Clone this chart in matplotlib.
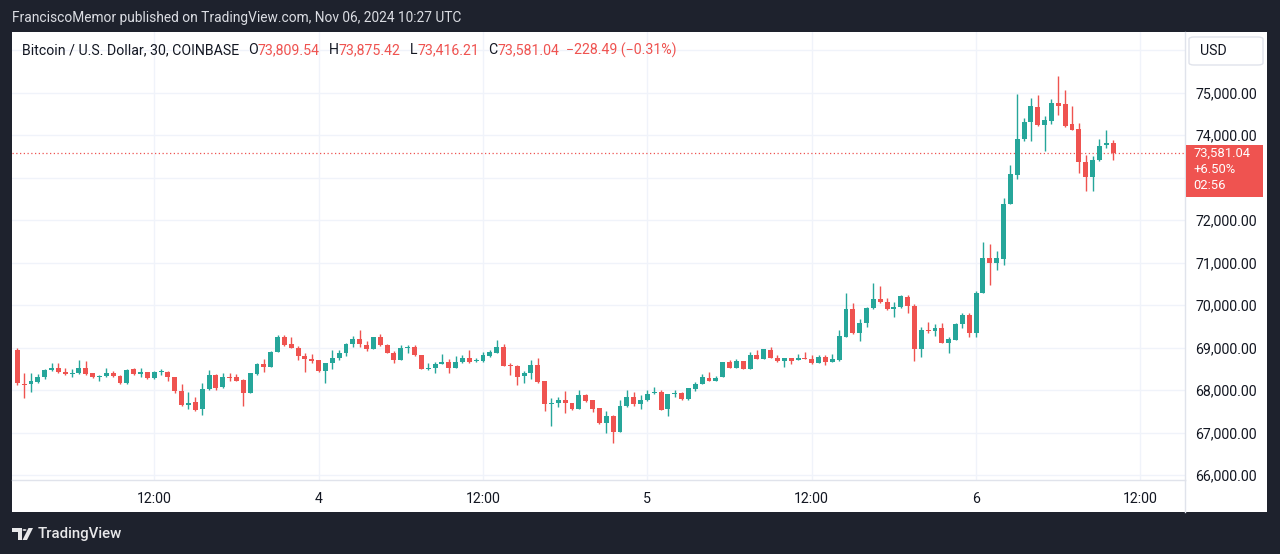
import matplotlib
matplotlib.use('Agg')
import matplotlib.pyplot as plt
import matplotlib.patches as mpatches
from matplotlib.lines import Line2D
import numpy as np
import pandas as pd

# ---------------- data (BTC/USD, 30-min candles, COINBASE) ----------------
start_time = '2024-11-03 02:00'
opens = [68945, 68145, 68138, 68185, 68317, 68475, 68515, 68428, 68374, 68397,
         68515, 68397, 68317, 68334, 68411, 68334, 68162, 68491, 68374, 68421,
         68280, 68421, 68435, 68303, 67988, 67651, 67715, 67550, 68021, 68357,
         68068, 68310, 68303, 68240, 67927, 68381, 68623, 68552, 68891, 69259,
         69080, 69000, 68812, 68727, 68710, 68451, 68633, 68750, 68882, 69080,
         69204, 69063, 68962, 69245, 69063, 68882, 68710, 69000, 69023, 68828,
         68499, 68529, 68609, 68656, 68529, 68670, 68750, 68687, 68694, 68812,
         68868, 69009, 68600, 68569, 68341, 68397, 68592, 68216, 67675, 67705,
         67762, 67691, 67557, 67887, 67769, 67588, 67221, 67393, 67009, 67628,
         67833, 67668, 67769, 67927, 67950, 67550, 67917, 67927, 67786, 68028,
         68145, 68294, 68223, 68303, 68656, 68529, 68687, 68499, 68828, 68734,
         68945, 68750, 68687, 68750, 68710, 68750, 68734, 68633, 68788, 68656,
         68718, 69259, 69903, 69338, 69574, 69927, 70139, 70082, 69903, 69950,
         70200, 69981, 68962, 69416, 69393, 69471, 69118, 69181, 69550, 69769,
         69353, 70280, 71103, 71000, 71087, 72374, 73063, 73903, 74303, 74671,
         74240, 74341, 74750, 74727, 74256, 74138, 73376, 73009, 73416, 73760,
         73809.54]
highs = [68985, 68397, 68397, 68381, 68491, 68647, 68647, 68529, 68491, 68710,
         68694, 68411, 68357, 68529, 68451, 68357, 68491, 68515, 68515, 68435,
         68451, 68498, 68451, 68317, 68145, 67964, 67846, 68176, 68475, 68381,
         68411, 68411, 68374, 68256, 68411, 68633, 68727, 68922, 69299, 69299,
         69245, 69040, 68868, 68844, 68710, 68647, 68945, 68945, 69103, 69275,
         69416, 69165, 69259, 69322, 69087, 68929, 69063, 69063, 69063, 68828,
         68647, 68670, 68844, 68727, 68804, 68828, 68945, 68765, 68905, 68945,
         69181, 69087, 68633, 68592, 68458, 68710, 68750, 68216, 67809, 67846,
         67981, 67705, 68004, 67910, 67769, 67588, 67510, 67416, 67769, 68004,
         67950, 67887, 68004, 68082, 68004, 67910, 68004, 67964, 68044, 68193,
         68374, 68421, 68334, 68670, 68710, 68734, 68694, 68891, 68945, 68969,
         69023, 68828, 68765, 68765, 68851, 68891, 68828, 68828, 68828, 68851,
         69416, 70280, 70044, 69668, 69950, 70515, 70452, 70163, 70082, 70240,
         70240, 70021, 69494, 69612, 69557, 69588, 69259, 69574, 69809, 69809,
         70341, 71494, 71440, 71282, 72515, 73299, 74969, 74397, 74868, 74946,
         74452, 74844, 75393, 75063, 74694, 74294, 73534, 73510, 73903, 74122,
         73875.42]
lows = [68122, 67809, 67964, 68162, 68256, 68451, 68397, 68357, 68317, 68381,
        68357, 68294, 68223, 68303, 68317, 68138, 68155, 68350, 68317, 68264,
        68264, 68357, 68223, 67927, 67628, 67550, 67517, 67416, 68004, 68004,
        68058, 68223, 68216, 67628, 67927, 68357, 68421, 68552, 68891, 69040,
        68985, 68710, 68435, 68633, 68435, 68176, 68491, 68710, 68812, 69009,
        69023, 68929, 68962, 69040, 68868, 68633, 68710, 68882, 68812, 68499,
        68475, 68397, 68609, 68397, 68529, 68647, 68633, 68656, 68670, 68788,
        68868, 68576, 68364, 68122, 68176, 68256, 68176, 67517, 67157, 67611,
        67470, 67534, 67557, 67729, 67494, 67197, 67000, 66757, 67009, 67611,
        67635, 67550, 67746, 67903, 67534, 67400, 67846, 67769, 67769, 67981,
        68138, 68216, 68216, 68303, 68515, 68529, 68499, 68499, 68727, 68734,
        68750, 68670, 68539, 68609, 68710, 68727, 68609, 68633, 68592, 68656,
        68694, 69259, 69322, 69165, 69480, 69903, 70044, 69887, 69715, 69927,
        69809, 68694, 68788, 69338, 69275, 69103, 68868, 69181, 69456, 69259,
        69259, 70280, 70475, 70828, 70946, 72374, 72969, 73870, 73870, 74223,
        73635, 74256, 74475, 74200, 74122, 73118, 72694, 72694, 73400, 73691,
        73416.21]
closes = [68162, 68130, 68216, 68317, 68475, 68529, 68421, 68374, 68411, 68515,
          68381, 68317, 68341, 68411, 68334, 68162, 68475, 68374, 68435, 68280,
          68435, 68428, 68303, 67981, 67651, 67705, 67534, 68021, 68357, 68058,
          68303, 68294, 68223, 67941, 68397, 68628, 68552, 68899, 69259, 69063,
          69000, 68804, 68727, 68694, 68451, 68633, 68750, 68882, 69080, 69204,
          69080, 68962, 69245, 69063, 68882, 68710, 69000, 69023, 68828, 68499,
          68529, 68609, 68656, 68529, 68670, 68750, 68670, 68694, 68828, 68891,
          69009, 68576, 68574, 68317, 68397, 68592, 68200, 67675, 67705, 67762,
          67691, 67557, 67887, 67746, 67557, 67221, 67393, 67009, 67628, 67833,
          67668, 67762, 67910, 67950, 67534, 67910, 67927, 67788, 68044, 68153,
          68303, 68223, 68294, 68656, 68529, 68687, 68499, 68828, 68734, 68962,
          68750, 68687, 68750, 68694, 68750, 68734, 68633, 68788, 68656, 68734,
          69275, 69903, 69338, 69574, 69927, 70139, 70082, 69903, 69965, 70216,
          69981, 68962, 69416, 69393, 69471, 69118, 69197, 69550, 69769, 69353,
          70294, 71103, 71000, 71103, 72381, 73080, 73910, 74317, 74687, 74240,
          74357, 74750, 74687, 74223, 74122, 73362, 73009, 73416, 73746, 73809.53,
          73581.04]
price_ticks = [66000, 67000, 68000, 69000, 70000, 71000, 72000, 73000, 74000, 75000, 76000]
title_text = 'FranciscoMemor published on TradingView.com, Nov 06, 2024 10:27 UTC'
symbol_text = 'Bitcoin / U.S. Dollar, 30, COINBASE'
day_change_label = '+6.50%'
countdown_label = '02:56'

# ---------------- styling ----------------
UP = '#26a69a'
DOWN = '#ef5350'
TXT = '#131722'
GRID = '#f0f3fa'
BORDER = '#e0e3eb'
BG = '#1e222d'
FONT = 'Roboto'
plt.rcParams['font.family'] = [FONT, 'DejaVu Sans']
FS = 10.2

W, H = 1280, 554
fig = plt.figure(figsize=(W / 100, H / 100), dpi=100, facecolor=BG)


def fx(p):
    return p / W


def fy(p):
    return 1 - p / H


# white panel (behind everything)
fig.patches.append(mpatches.Rectangle((fx(12), fy(512)), fx(1267) - fx(12), fy(32) - fy(512),
                                      transform=fig.transFigure, facecolor='white',
                                      edgecolor='none', zorder=-10))

ax = fig.add_axes([fx(12), fy(480), fx(1185) - fx(12), fy(32) - fy(480)])
ax.set_zorder(1)
ax.set_facecolor('white')

o = np.array(opens, float)
h = np.array(highs, float)
l = np.array(lows, float)
c = np.array(closes, float)
n = len(c)
x = np.arange(n)
times = pd.date_range(start_time, periods=n, freq='30min')
colors = np.where(c >= o, UP, DOWN)

ax.vlines(x, l, h, colors=colors, linewidth=1.0, zorder=3)
body_bottom = np.minimum(o, c)
body_h = np.maximum(np.abs(c - o), 22)
ax.bar(x, body_h, bottom=body_bottom, width=0.72, color=colors, linewidth=0, zorder=4)

ax.set_xlim(-0.77, 170.5)
ax.set_ylim(65887, 76428)

# time ticks
tick_times = pd.date_range('2024-11-03 12:00', '2024-11-06 12:00', freq='12h')
tick_pos = (tick_times - times[0]) / pd.Timedelta('30min')
tick_lab = ['12:00' if t.hour == 12 else str(t.day) for t in tick_times]
ax.set_xticks(tick_pos)
ax.set_xticklabels(tick_lab)

# price axis: hide labels covered by the USD box or the last-price box
fig.canvas.draw()
yc = H - ax.transData.transform((0, c[-1]))[1]  # last price, pixels from top
box_top, box_bot = yc - 8, yc + 44


def price_label(p):
    py = H - ax.transData.transform((0, p))[1]
    if py < 70 or (box_top - 8 < py < box_bot + 8):
        return ''
    return f'{p:,.2f}'


ax.yaxis.tick_right()
ax.set_yticks(price_ticks)
ax.set_yticklabels([price_label(p) for p in price_ticks])

ax.tick_params(axis='both', length=0, labelsize=FS, labelcolor=TXT)
ax.tick_params(axis='x', pad=8.3)
ax.tick_params(axis='y', pad=7.5)
ax.grid(True, color=GRID, linewidth=1, zorder=0)
ax.set_axisbelow(True)
for s in ['top', 'left']:
    ax.spines[s].set_visible(False)
for s in ['right', 'bottom']:
    ax.spines[s].set_color(BORDER)
    ax.spines[s].set_linewidth(1)

# separator down through time axis
fig.add_artist(Line2D([fx(1185), fx(1185)], [fy(480), fy(512)], transform=fig.transFigure,
                      color=BORDER, lw=1))

# last price line
ax.axhline(c[-1], color=DOWN, lw=0.9, ls=(0, (1, 2)), zorder=2)

# last price label box
fig.add_artist(mpatches.Rectangle((fx(1186), fy(box_bot)), fx(1263) - fx(1186), (box_bot - box_top) / H,
                                  transform=fig.transFigure, facecolor=DOWN,
                                  edgecolor='none', zorder=5))
fig.text(fx(1193), fy(yc + 16.5), f'{c[-1]:,.2f}\n{day_change_label}\n{countdown_label}',
         color='white', fontsize=9.4, va='center', ha='left', multialignment='left',
         linespacing=1.33, zorder=6)

# USD box
fig.add_artist(mpatches.FancyBboxPatch((fx(1189), fy(65)), fx(1263) - fx(1189), 28 / H,
                                       boxstyle='round,pad=0,rounding_size=0.004',
                                       transform=fig.transFigure, facecolor='white',
                                       edgecolor=BORDER, lw=1, zorder=5))
fig.text(fx(1200), fy(51), 'USD', color=TXT, fontsize=FS, va='center', ha='left', zorder=6)

# title
fig.text(fx(12), fy(18), title_text, color='#dbdde3', fontsize=9.95, va='center', ha='left')

# legend row
r = fig.canvas.get_renderer()
chg = c[-1] - c[-2]
pct = chg / c[-2] * 100
pieces = [(symbol_text, TXT, 9), ('O', TXT, 0), (f'{o[-1]:,.2f}', DOWN, 9),
          ('H', TXT, 0), (f'{h[-1]:,.2f}', DOWN, 9),
          ('L', TXT, 0), (f'{l[-1]:,.2f}', DOWN, 9),
          ('C', TXT, 0), (f'{c[-1]:,.2f}', DOWN, 7),
          (f'\u2212{abs(chg):.2f} (\u2212{abs(pct):.2f}%)', DOWN, 0)]
xcur = 22
for s, col, gap in pieces:
    t = fig.text(fx(xcur), fy(50.5), s, color=col, fontsize=FS, va='center', ha='left', zorder=6)
    bb = t.get_window_extent(renderer=r)
    xcur += bb.width + gap

# TradingView footer logo
LOGO = '#e8e8ea'
fig.patches.append(mpatches.Rectangle((fx(12), fy(532)), 9.5 / W, 4 / H, transform=fig.transFigure,
                                      facecolor=LOGO, edgecolor='none'))
fig.patches.append(mpatches.Rectangle((fx(17.5), fy(540)), 4 / W, 12 / H, transform=fig.transFigure,
                                      facecolor=LOGO, edgecolor='none'))
fig.patches.append(mpatches.Circle((fx(24.5), fy(530)), 2 / W, transform=fig.transFigure,
                                   facecolor=LOGO, edgecolor='none'))
fig.patches.append(mpatches.Polygon([(fx(28.5), fy(528)), (fx(33), fy(528)), (fx(27), fy(540)), (fx(22.5), fy(540))],
                                    closed=True, transform=fig.transFigure, facecolor=LOGO, edgecolor='none'))
fig.text(fx(38), fy(534), 'TradingView', color=LOGO, fontsize=10.8, fontweight='medium',
         va='center', ha='left')

fig.savefig('out.png', dpi=100, facecolor=BG)
